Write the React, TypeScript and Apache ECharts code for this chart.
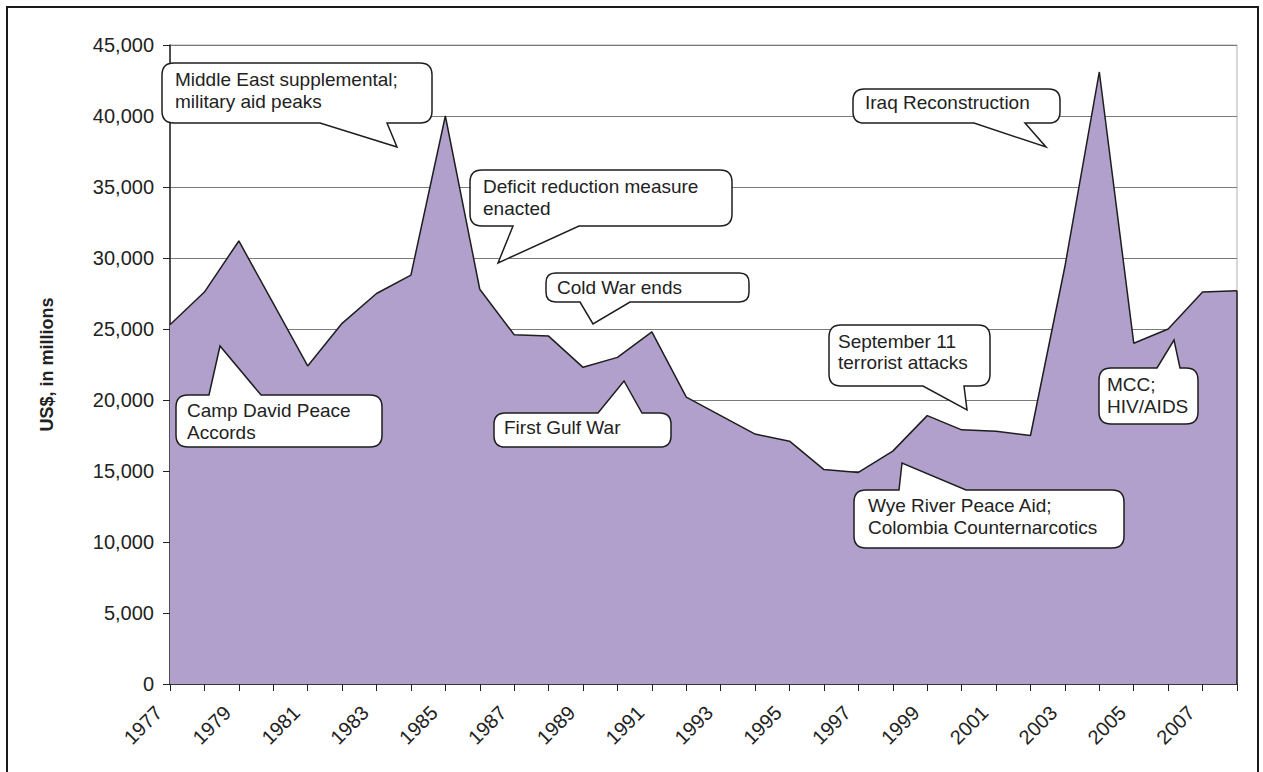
import React, { useEffect, useRef } from "react";
import * as echarts from "echarts";

const years = [
  "1977", "1978", "1979", "1980", "1981", "1982", "1983", "1984",
  "1985", "1986", "1987", "1988", "1989", "1990", "1991", "1992",
  "1993", "1994", "1995", "1996", "1997", "1998", "1999", "2000",
  "2001", "2002", "2003", "2004", "2005", "2006", "2007", "2008",
];

const aidValues = [
  25300, 27600, 31200, 26800, 22400, 25400, 27500, 28800,
  40000, 27800, 24600, 24500, 22300, 23000, 24800, 20200,
  18900, 17600, 17100, 15100, 14900, 16400, 18900, 17900,
  17800, 17500, 29400, 43100, 24000, 25000, 27600, 27700,
];

const yTickStep = 5000;
const yMax = 45000;
const yAxisTitle = "US$, in millions";

const calloutTexts = [
  ["Middle East supplemental;", "military aid peaks"],
  ["Deficit reduction measure", "enacted"],
  ["Cold War ends"],
  ["First Gulf War"],
  ["Camp David Peace", "Accords"],
  ["September 11", "terrorist attacks"],
  ["Wye River Peace Aid;", "Colombia Counternarcotics"],
  ["MCC;", "HIV/AIDS"],
  ["Iraq Reconstruction"],
];

// layout of the callout bubbles (pixels)
type Geo = {
  x0: number; y0: number; x1: number; y1: number;
  side: "top" | "bottom"; b0: number; b1: number; tx: number; ty: number;
  textX: number; lineY: number[];
};
const calloutLayout: Geo[] = [
  { x0: 162, y0: 63, x1: 432, y1: 123, side: "bottom", b0: 320, b1: 387, tx: 397, ty: 147, textX: 175, lineY: [79, 101] },
  { x0: 470, y0: 170, x1: 732, y1: 226, side: "bottom", b0: 513, b1: 579, tx: 498, ty: 263, textX: 483, lineY: [186, 208] },
  { x0: 546, y0: 273, x1: 749, y1: 302, side: "bottom", b0: 580, b1: 630, tx: 593, ty: 324, textX: 557, lineY: [287] },
  { x0: 494, y0: 413, x1: 671, y1: 447, side: "top", b0: 598, b1: 642, tx: 624, ty: 381, textX: 504, lineY: [427] },
  { x0: 176, y0: 395, x1: 382, y1: 447, side: "top", b0: 209, b1: 261, tx: 220, ty: 346, textX: 187, lineY: [410, 432] },
  { x0: 829, y0: 325, x1: 990, y1: 386, side: "bottom", b0: 923, b1: 964, tx: 967, ty: 410, textX: 838, lineY: [341, 362] },
  { x0: 854, y0: 490, x1: 1124, y1: 548, side: "top", b0: 899, b1: 966, tx: 902, ty: 463, textX: 868, lineY: [505, 527] },
  { x0: 1099, y0: 368, x1: 1198, y1: 424, side: "top", b0: 1157, b1: 1180, tx: 1174, ty: 340, textX: 1107, lineY: [384, 406] },
  { x0: 853, y0: 89, x1: 1060, y1: 123, side: "bottom", b0: 974, b1: 1025, tx: 1046, ty: 147, textX: 865, lineY: [102] },
];

function calloutPath(g: Geo): string {
  const r = Math.min(12, (g.y1 - g.y0) / 3);
  const { x0, y0, x1, y1 } = g;
  if (g.side === "top") {
    return `M ${x0 + r} ${y0} L ${g.b0} ${y0} L ${g.tx} ${g.ty} L ${g.b1} ${y0} L ${x1 - r} ${y0} ` +
      `Q ${x1} ${y0} ${x1} ${y0 + r} L ${x1} ${y1 - r} Q ${x1} ${y1} ${x1 - r} ${y1} ` +
      `L ${x0 + r} ${y1} Q ${x0} ${y1} ${x0} ${y1 - r} L ${x0} ${y0 + r} Q ${x0} ${y0} ${x0 + r} ${y0} Z`;
  }
  return `M ${x0 + r} ${y0} L ${x1 - r} ${y0} Q ${x1} ${y0} ${x1} ${y0 + r} L ${x1} ${y1 - r} ` +
    `Q ${x1} ${y1} ${x1 - r} ${y1} L ${g.b1} ${y1} L ${g.tx} ${g.ty} L ${g.b0} ${y1} ` +
    `L ${x0 + r} ${y1} Q ${x0} ${y1} ${x0} ${y1 - r} L ${x0} ${y0 + r} Q ${x0} ${y0} ${x0 + r} ${y0} Z`;
}

let registered = false;
function registerCallouts() {
  if (registered) return;
  calloutLayout.forEach((g, i) => {
    echarts.graphic.registerShape("callout" + i, echarts.graphic.extendPath(calloutPath(g), {}));
  });
  registered = true;
}

const FONT = '"Liberation Sans", Arial, sans-serif';

export default function App() {
  const ref = useRef<HTMLDivElement>(null);
  useEffect(() => {
    if (!ref.current) return;
    registerCallouts();
    const chart = echarts.init(ref.current, undefined, { renderer: "svg" });

    const graphics: any[] = [
      {
        type: "rect",
        shape: { x: 7, y: 7, width: 1251, height: 800 },
        style: { fill: "none", stroke: "#1a1a1a", lineWidth: 2 },
        z: 100,
        silent: true,
      },
    ];
    calloutLayout.forEach((g, i) => {
      graphics.push({
        type: "callout" + i,
        x: 0,
        y: 0,
        style: { fill: "#ffffff", stroke: "#1e1e1e", lineWidth: 1.5 },
        z: 100,
        silent: true,
      });
      calloutTexts[i].forEach((line, j) => {
        graphics.push({
          type: "text",
          x: g.textX,
          y: g.lineY[j],
          style: {
            text: line,
            font: `19px ${FONT}`,
            fill: "#222222",
            verticalAlign: "middle",
            align: "left",
          },
          z: 101,
          silent: true,
        });
      });
    });

    const last = years.length - 1;

    chart.setOption({
      animation: false,
      backgroundColor: "#ffffff",
      grid: {
        left: 170,
        right: 26,
        top: 45,
        bottom: 88,
        show: true,
        borderColor: "#b3aeaa",
        borderWidth: 1,
        backgroundColor: "transparent",
      },
      xAxis: {
        type: "category",
        data: years,
        boundaryGap: false,
        axisLine: { lineStyle: { color: "#222222", width: 1.5 } },
        axisTick: { show: true, interval: 0, length: 7, lineStyle: { color: "#222222", width: 1 } },
        axisLabel: {
          interval: 1,
          rotate: 45,
          margin: 14,
          padding: [0, 16, 0, 0],
          fontFamily: FONT,
          fontSize: 20,
          color: "#222222",
        },
        splitLine: { show: false },
      },
      yAxis: {
        type: "value",
        min: 0,
        max: yMax,
        interval: yTickStep,
        name: yAxisTitle,
        nameLocation: "middle",
        nameGap: 114,
        nameRotate: 90,
        nameTextStyle: { fontFamily: FONT, fontSize: 18, fontWeight: "bold", color: "#222222" },
        axisLine: { show: true, lineStyle: { color: "#222222", width: 1.5 } },
        axisTick: { show: true, length: 7, lineStyle: { color: "#222222", width: 1 } },
        axisLabel: {
          margin: 16,
          fontFamily: FONT,
          fontSize: 20,
          color: "#222222",
          formatter: (v: number) => v.toLocaleString("en-US"),
        },
        splitLine: { show: true, lineStyle: { color: "#7a7a7a", width: 1 } },
      },
      series: [
        {
          type: "line",
          data: aidValues,
          symbol: "none",
          lineStyle: { color: "#1e1e1e", width: 1.5 },
          areaStyle: { color: "#b0a0cb", opacity: 1 },
          z: 3,
          markLine: {
            silent: true,
            symbol: "none",
            label: { show: false },
            lineStyle: { color: "#1e1e1e", width: 1.5, type: "solid" },
            data: [[{ coord: [years[last], 0] }, { coord: [years[last], aidValues[last]] }]],
          },
        },
      ],
      graphic: graphics,
    });
    return () => chart.dispose();
  }, []);

  return (
    <div
      ref={ref}
      style={{ position: "fixed", left: 0, top: 0, width: 1263, height: 772, background: "#fff" }}
    />
  );
}
